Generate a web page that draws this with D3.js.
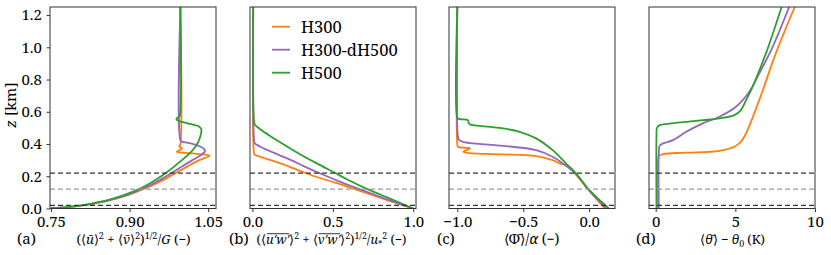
<!DOCTYPE html>
<html><head><meta charset="utf-8">
<script src="https://cdn.jsdelivr.net/npm/d3@7"></script>
<style>
body{margin:0;background:#fff;}
text{font-family:"Noto Serif",serif;fill:#000;}
</style></head>
<body><svg id="c" width="831" height="255"></svg>
<script>
// ---------- data ----------
const seriesNames = ["H300", "H300-dH500", "H500"];
const seriesColors = ["#ff7f0e", "#9467bd", "#2ca02c"];
const refHeights = [0.22, 0.12, 0.02];       // km, dashed reference lines
const refShades = ["#333", "#999", "#333"];

const yTicks = [0.0, 0.2, 0.4, 0.6, 0.8, 1.0, 1.2];
const xTicksA = [0.75, 0.90, 1.05];
const xTicksB = [0.0, 0.5, 1.0];
const xTicksC = [-1.0, -0.5, 0.0];
const xTicksD = [0, 5, 10];

// panel (a): normalized wind speed, [value, z(km)]
const windH300 = [[0.75,0.002],[0.77,0.006],[0.791,0.012],[0.81,0.02],[0.834,0.032],[0.861,0.05],[0.889,0.075],[0.911,0.1],[0.934,0.13],[0.954,0.16],[0.972,0.19],[0.988,0.22],[1.01,0.26],[1.033,0.3],[1.053,0.328],[1.04,0.336],[1.02,0.342],[1.0,0.347],[0.99,0.352],[0.995,0.362],[1.0,0.373],[0.995,0.385],[0.997,0.4],[0.997,1.25]];
const windH300dH500 = [[0.75,0.002],[0.77,0.006],[0.791,0.012],[0.81,0.02],[0.833,0.032],[0.86,0.05],[0.887,0.075],[0.908,0.1],[0.93,0.13],[0.948,0.16],[0.965,0.19],[0.98,0.22],[1.0,0.26],[1.02,0.3],[1.036,0.33],[1.044,0.355],[1.042,0.37],[1.035,0.385],[1.022,0.4],[1.01,0.408],[1.0,0.415],[0.997,0.425],[0.997,1.25]];
const windH500 = [[0.75,0.002],[0.77,0.006],[0.79,0.012],[0.808,0.02],[0.83,0.032],[0.856,0.05],[0.882,0.075],[0.903,0.1],[0.924,0.13],[0.941,0.16],[0.956,0.19],[0.969,0.22],[0.985,0.26],[1.0,0.3],[1.014,0.34],[1.025,0.38],[1.032,0.42],[1.036,0.46],[1.037,0.49],[1.032,0.51],[1.015,0.525],[1.0,0.538],[0.99,0.55],[0.99,0.56],[0.995,0.57],[0.997,0.6],[0.997,1.25]];

// panel (b): normalized momentum flux
const fluxH300 = [[1.0,0],[0.815,0.06],[0.635,0.12],[0.515,0.16],[0.385,0.2],[0.28,0.24],[0.175,0.28],[0.115,0.3],[0.065,0.315],[0.035,0.325],[0.013,0.335],[0.008,0.36],[0.005,1.25]];
const fluxH300dH500 = [[1.0,0],[0.83,0.06],[0.665,0.12],[0.535,0.17],[0.415,0.22],[0.325,0.26],[0.24,0.3],[0.17,0.33],[0.1,0.36],[0.055,0.38],[0.028,0.395],[0.015,0.405],[0.01,0.43],[0.005,1.25]];
const fluxH500 = [[1.0,0],[0.86,0.06],[0.715,0.12],[0.59,0.18],[0.515,0.22],[0.4,0.28],[0.29,0.34],[0.19,0.4],[0.11,0.45],[0.05,0.49],[0.025,0.51],[0.015,0.52],[0.01,0.54],[0.005,1.25]];

// panel (c): normalized wind direction
const dirH300 = [[0.12,0],[0.0,0.11],[-0.1,0.21],[-0.17,0.265],[-0.226,0.28],[-0.277,0.3],[-0.402,0.325],[-0.653,0.336],[-0.85,0.341],[-0.904,0.343],[-0.955,0.352],[-0.904,0.373],[-0.995,0.383],[-1.0,0.4],[-1.0,1.25]];
const dirH300dH500 = [[0.13,0],[0.0,0.112],[-0.1,0.215],[-0.2,0.28],[-0.277,0.321],[-0.402,0.362],[-0.653,0.389],[-0.85,0.402],[-0.95,0.412],[-0.985,0.424],[-0.995,0.445],[-1.0,0.5],[-1.0,1.25]];
const dirH500 = [[0.15,0],[0.0,0.115],[-0.1,0.218],[-0.176,0.28],[-0.277,0.362],[-0.402,0.435],[-0.528,0.476],[-0.653,0.497],[-0.75,0.506],[-0.88,0.517],[-0.905,0.522],[-0.915,0.535],[-0.92,0.548],[-0.99,0.556],[-1.0,0.565],[-1.0,1.25]];

// panel (d): potential temperature anomaly (K)
const thetaH300 = [[0.15,0],[0.15,0.3],[0.2,0.325],[0.46,0.338],[1.92,0.346],[4.0,0.358],[4.94,0.383],[5.35,0.414],[5.67,0.466],[6.5,0.672],[7.54,0.962],[8.73,1.25]];
const thetaH300dH500 = [[0.2,0],[0.2,0.36],[0.25,0.39],[0.46,0.404],[1.08,0.424],[1.92,0.476],[2.96,0.528],[4.0,0.569],[5.04,0.631],[5.875,0.724],[6.5,0.838],[7.33,1.0],[8.375,1.25]];
const thetaH500 = [[0.05,0],[0.05,0.45],[0.08,0.5],[0.25,0.517],[1.0,0.528],[1.92,0.538],[3.0,0.548],[4.0,0.559],[4.94,0.579],[5.35,0.61],[5.67,0.672],[6.08,0.755],[6.92,0.962],[7.9,1.25]];

// ---------- layout ----------
const svg = d3.select("#c");
const plotTop = 7, plotBottom = 208.5, pw = 166;
const y = d3.scaleLinear().domain([0, 1.25]).range([plotBottom, plotTop]);
const FS = 15;

const panels = [
  {x0: 50,  dom: [0.748, 1.065], ticks: xTicksA, fmt: d3.format(".2f"), data: [windH300, windH300dH500, windH500], tag: "(a)", tagX: 17, exprX: 133.5, exprW: 115,
   expr: [["(⟨"],["u\u0304","i"],["⟩"],["2","sup"],[" + ⟨"],["v\u0304","i"],["⟩"],["2","sup"],[")"],["1/2","sup"],["/"],["G","i"],[" (−)"]]},
  {x0: 250, dom: [-0.015, 1.017], ticks: xTicksB, fmt: d3.format(".1f"), data: [fluxH300, fluxH300dH500, fluxH500], tag: "(b)", tagX: 229, exprX: 331.5, exprW: 150,
   expr: [["(⟨"],["u′w′","io"],["⟩"],["2","sup"],[" + ⟨"],["v′w′","io"],["⟩"],["2","sup"],[")"],["1/2","sup"],["/"],["u","i"],["*","sub"],["2","sup"],[" (−)"]]},
  {x0: 449, dom: [-1.063, 0.196], ticks: xTicksC, fmt: d => d3.format(".1f")(d).replace("-", "\u2212"), data: [dirH300, dirH300dH500, dirH500], tag: "(c)", tagX: 437, exprX: 531.5, exprW: 57,
   expr: [["⟨Φ\u0304⟩/"],["α","i"],[" (−)"]]},
  {x0: 649, dom: [-0.42, 10], ticks: xTicksD, fmt: d3.format("d"), data: [thetaH300, thetaH300dH500, thetaH500], tag: "(d)", tagX: 636, exprX: 732.5, exprW: 65,
   expr: [["⟨"],["θ\u0304","i"],["⟩ − "],["θ","i"],["0","sub"],[" (K)"]]}
];

svg.append("defs").selectAll("clipPath").data(panels).join("clipPath")
  .attr("id", (d, i) => "clip" + i)
  .append("rect").attr("x", d => d.x0).attr("y", plotTop).attr("width", pw).attr("height", plotBottom - plotTop);

function mathText(g, segs, x, yb, fs) {
  const grp = g.append("g");
  const t = grp.append("text").attr("x", x).attr("y", yb).attr("text-anchor", "middle").style("font-size", fs + "px");
  let shift = 0, idx = 0;
  const overs = [];
  segs.forEach(([s, st]) => {
    const sp = t.append("tspan").text(s);
    let target = 0, size = fs;
    if (st === "i" || st === "io") sp.attr("font-style", "italic");
    if (st === "io") overs.push([idx, idx + s.length - 1]);
    if (st === "sup") { target = -0.36 * fs; size = fs * 0.7; }
    if (st === "sub") { target = 0.2 * fs; size = fs * 0.7; }
    sp.style("font-size", size + "px").attr("dy", target - shift);
    shift = target;
    idx += s.length;
  });
  const n = t.node();
  overs.forEach(([a, b]) => {
    const s = n.getStartPositionOfChar(a), e = n.getEndPositionOfChar(b);
    grp.append("line").attr("x1", s.x + 1).attr("x2", e.x).attr("y1", yb - 0.82 * fs).attr("y2", yb - 0.82 * fs)
      .attr("stroke", "#000").attr("stroke-width", 0.8);
  });
  return grp;
}

function fitText(segs, g, x, yb, w) {
  const probe = mathText(g, segs, x, yb, FS);
  const len = probe.select("text").node().getComputedTextLength();
  const fs = Math.max(11, Math.min(16, FS * w / len));
  probe.remove();
  return mathText(g, segs, x, yb, fs);
}

panels.forEach((p, i) => {
  const x = d3.scaleLinear().domain(p.dom).range([p.x0, p.x0 + pw]);
  const g = svg.append("g");
  const line = d3.line().x(d => x(d[0])).y(d => y(d[1])).curve(d3.curveCatmullRom.alpha(0.5));
  const pg = g.append("g").attr("clip-path", `url(#clip${i})`);
  p.data.forEach((ser, k) => {
    pg.append("path").datum(ser).attr("d", line).attr("fill", "none")
      .attr("stroke", seriesColors[k]).attr("stroke-width", 1.8).attr("stroke-linejoin", "round");
  });
  refHeights.forEach((h, k) => {
    pg.append("line").attr("x1", p.x0).attr("x2", p.x0 + pw).attr("y1", y(h)).attr("y2", y(h))
      .attr("stroke", refShades[k]).attr("stroke-width", 1.2).attr("stroke-dasharray", "5,3");
  });
  // frame
  g.append("rect").attr("x", p.x0).attr("y", plotTop).attr("width", pw).attr("height", plotBottom - plotTop)
    .attr("fill", "none").attr("stroke", "#333").attr("stroke-width", 1);
  // x axis
  const xa = g.append("g").attr("transform", `translate(0,${plotBottom})`)
    .call(d3.axisBottom(x).tickValues(p.ticks).tickFormat(p.fmt).tickSize(3.5).tickPadding(4));
  xa.select(".domain").remove();
  xa.attr("font-family", null).attr("font-size", null);
  xa.selectAll("line").attr("stroke", "#333");
  xa.selectAll("text").style("font-size", FS + "px");
  // label
  g.append("text").attr("x", p.tagX).attr("y", 244).style("font-size", FS + "px").text(p.tag);
  fitText(p.expr, g, p.exprX, 244, p.exprW);
  if (i === 0) {
    const ya = g.append("g").attr("transform", `translate(${p.x0},0)`)
      .call(d3.axisLeft(y).tickValues(yTicks).tickFormat(d3.format(".1f")).tickSize(3.5).tickPadding(4.5));
    ya.select(".domain").remove();
    ya.attr("font-family", null).attr("font-size", null);
    ya.selectAll("line").attr("stroke", "#333");
    ya.selectAll("text").style("font-size", FS + "px");
    const yl = g.append("text").attr("transform", "translate(16,105) rotate(-90)").attr("text-anchor", "middle").style("font-size", FS + "px");
    yl.append("tspan").attr("font-style", "italic").text("z");
    yl.append("tspan").text(" [km]");
  }
  if (i === 1) {
    const lg = g.append("g");
    seriesNames.forEach((n, k) => {
      const ly = 26.7 + k * 23;
      lg.append("line").attr("x1", 272).attr("x2", 290).attr("y1", ly).attr("y2", ly)
        .attr("stroke", seriesColors[k]).attr("stroke-width", 1.8);
      lg.append("text").attr("x", 301).attr("y", ly).attr("dy", "0.36em").style("font-size", "16.5px").text(n);
    });
  }
});
</script></body></html>
